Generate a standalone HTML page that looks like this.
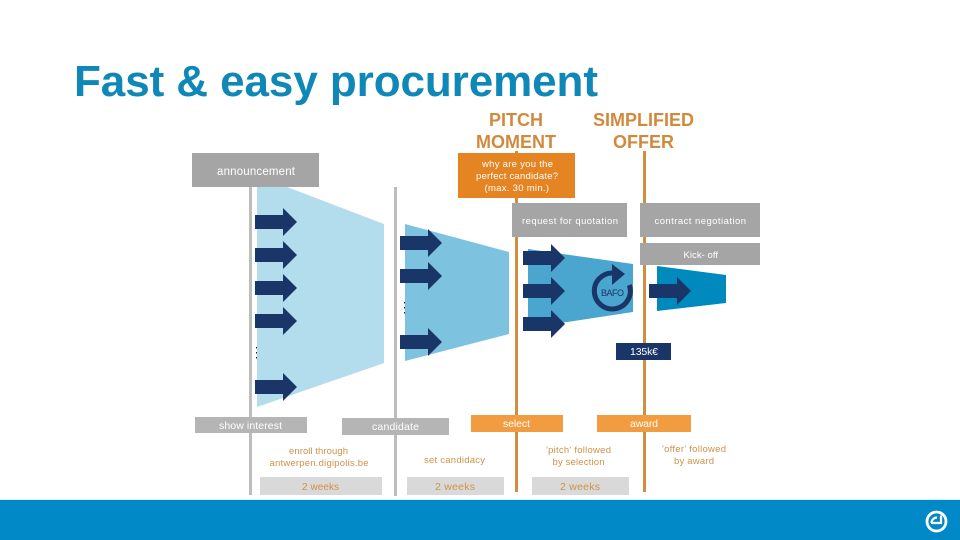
<!DOCTYPE html>
<html><head><meta charset="utf-8"><title>Fast &amp; easy procurement</title>
<style>html,body{margin:0;padding:0;background:#fff;width:960px;height:540px;overflow:hidden}svg{display:block}text{font-family:"Liberation Sans",sans-serif}</style></head>
<body>
<svg width="960" height="540" viewBox="0 0 960 540" xmlns="http://www.w3.org/2000/svg">
<defs><path id="a" d="M0 -7H28V-14L42 0L28 14V7H0Z" fill="#1a3668"/></defs>
<rect width="960" height="540" fill="#fff"/>
<rect x="0" y="500" width="960" height="40" fill="#0089c6"/>
<rect x="0" y="499" width="960" height="1" fill="#d8f5fb"/>
<text x="74" y="96" font-size="44" font-weight="bold" fill="#0f88b8" textLength="524" lengthAdjust="spacing">Fast &amp; easy procurement</text>

<rect x="249" y="187" width="3" height="308" fill="#bdbdbd"/>
<rect x="394" y="187" width="3" height="309" fill="#bdbdbd"/>
<rect x="515" y="151" width="3" height="341" fill="#d18e3f"/>
<rect x="643" y="151" width="3" height="341" fill="#d18e3f"/>

<polygon points="257,187 287,187 384,224 384,363 257,407" fill="#b3dced"/>
<polygon points="405,224 509,252 509,334 405,361" fill="#7dc3df"/>
<polygon points="528,249 633,264 633,312 528,328" fill="#4ba6cf"/>
<polygon points="657,266 726,275 726,303 657,311" fill="#0089bd"/>

<use href="#a" x="255" y="222"/><use href="#a" x="255" y="255"/><use href="#a" x="255" y="288"/><use href="#a" x="255" y="321"/><use href="#a" x="255" y="387"/>
<use href="#a" x="400" y="243"/><use href="#a" x="400" y="276"/><use href="#a" x="400" y="342"/>
<use href="#a" x="523" y="258"/><use href="#a" x="523" y="291"/><use href="#a" x="523" y="324"/>
<use href="#a" x="649" y="291"/>

<path d="M613 273A18 18 0 1 0 629.3 285" fill="none" stroke="#1a3668" stroke-width="5"/>
<polygon points="612,264 625,274 612,285" fill="#1a3668"/>
<text x="601" y="296" font-size="9" fill="#1a3668" textLength="23">BAFO</text>

<g fill="#222"><rect x="256" y="347" width="1" height="1.5"/><rect x="256" y="352" width="1" height="1.5"/><rect x="256" y="357" width="1" height="1.5"/><rect x="404" y="302" width="1" height="1.5"/><rect x="404" y="307" width="1" height="1.5"/><rect x="404" y="312" width="1" height="1.5"/></g>

<g fill="#a5a5a5">
<rect x="192" y="153" width="127" height="34"/>
<rect x="512" y="203" width="115" height="34"/>
<rect x="640" y="203" width="120" height="34"/>
<rect x="640" y="243" width="120" height="22"/>
</g>
<rect x="458" y="153" width="117" height="45" fill="#e58422"/>
<rect x="195" y="417" width="112" height="16" fill="#b5b5b5"/>
<rect x="342" y="418" width="107" height="17" fill="#b5b5b5"/>
<rect x="471" y="415" width="92" height="17" fill="#f19c40"/>
<rect x="597" y="415" width="94" height="17" fill="#f19c40"/>
<rect x="616" y="343" width="55" height="17" fill="#1a3668"/>
<g fill="#d9d9d9">
<rect x="260" y="477" width="122" height="18"/>
<rect x="407" y="477" width="97" height="18"/>
<rect x="532" y="477" width="97" height="18"/>
</g>

<g font-size="18" font-weight="bold" fill="#d18a3c">
<text x="489" y="126" textLength="54">PITCH</text>
<text x="476" y="148" textLength="80">MOMENT</text>
<text x="593" y="126" textLength="101">SIMPLIFIED</text>
<text x="613" y="148" textLength="61">OFFER</text>
</g>

<g fill="#fff">
<text x="217" y="175" font-size="11.5" textLength="78">announcement</text>
<text x="482" y="167" font-size="9.5" textLength="71">why are you the</text>
<text x="476" y="179" font-size="9.5" textLength="82">perfect candidate?</text>
<text x="484.5" y="191" font-size="9.5" textLength="64.5">(max. 30 min.)</text>
<text x="522" y="224" font-size="9.5" textLength="96">request for quotation</text>
<text x="654.5" y="224" font-size="9.5" textLength="91.5">contract negotiation</text>
<text x="683.5" y="258" font-size="9.5" textLength="34.5">Kick- off</text>
<text x="630" y="355" font-size="10.5" textLength="28">135k€</text>
<text x="219" y="429" font-size="10.5" textLength="63">show interest</text>
<text x="372" y="430" font-size="10.5" textLength="47">candidate</text>
<text x="503" y="427" font-size="10.5" textLength="27">select</text>
<text x="630" y="427" font-size="10.5" textLength="28">award</text>
</g>

<g fill="#cf9248" font-size="9.5">
<text x="289" y="454" textLength="59">enroll through</text>
<text x="269.5" y="466" textLength="99">antwerpen.digipolis.be</text>
<text x="424" y="463" textLength="61">set candidacy</text>
<text x="546" y="453" textLength="65">'pitch' followed</text>
<text x="552.5" y="465" textLength="52">by selection</text>
<text x="662" y="452" textLength="64">'offer' followed</text>
<text x="674" y="464" textLength="40">by award</text>
<text x="302" y="490" font-size="10" textLength="37">2 weeks</text>
<text x="435" y="490" font-size="10.5" textLength="40">2 weeks</text>
<text x="560" y="490" font-size="10.5" textLength="40">2 weeks</text>
</g>

<circle cx="936.5" cy="521.5" r="9.5" fill="none" stroke="#fff" stroke-width="2.8"/>
<path d="M931 523H941V515.5M931.5 523A5.5 5.5 0 0 1 937 517.5" fill="none" stroke="#fff" stroke-width="2.2"/>
</svg>
</body></html>
